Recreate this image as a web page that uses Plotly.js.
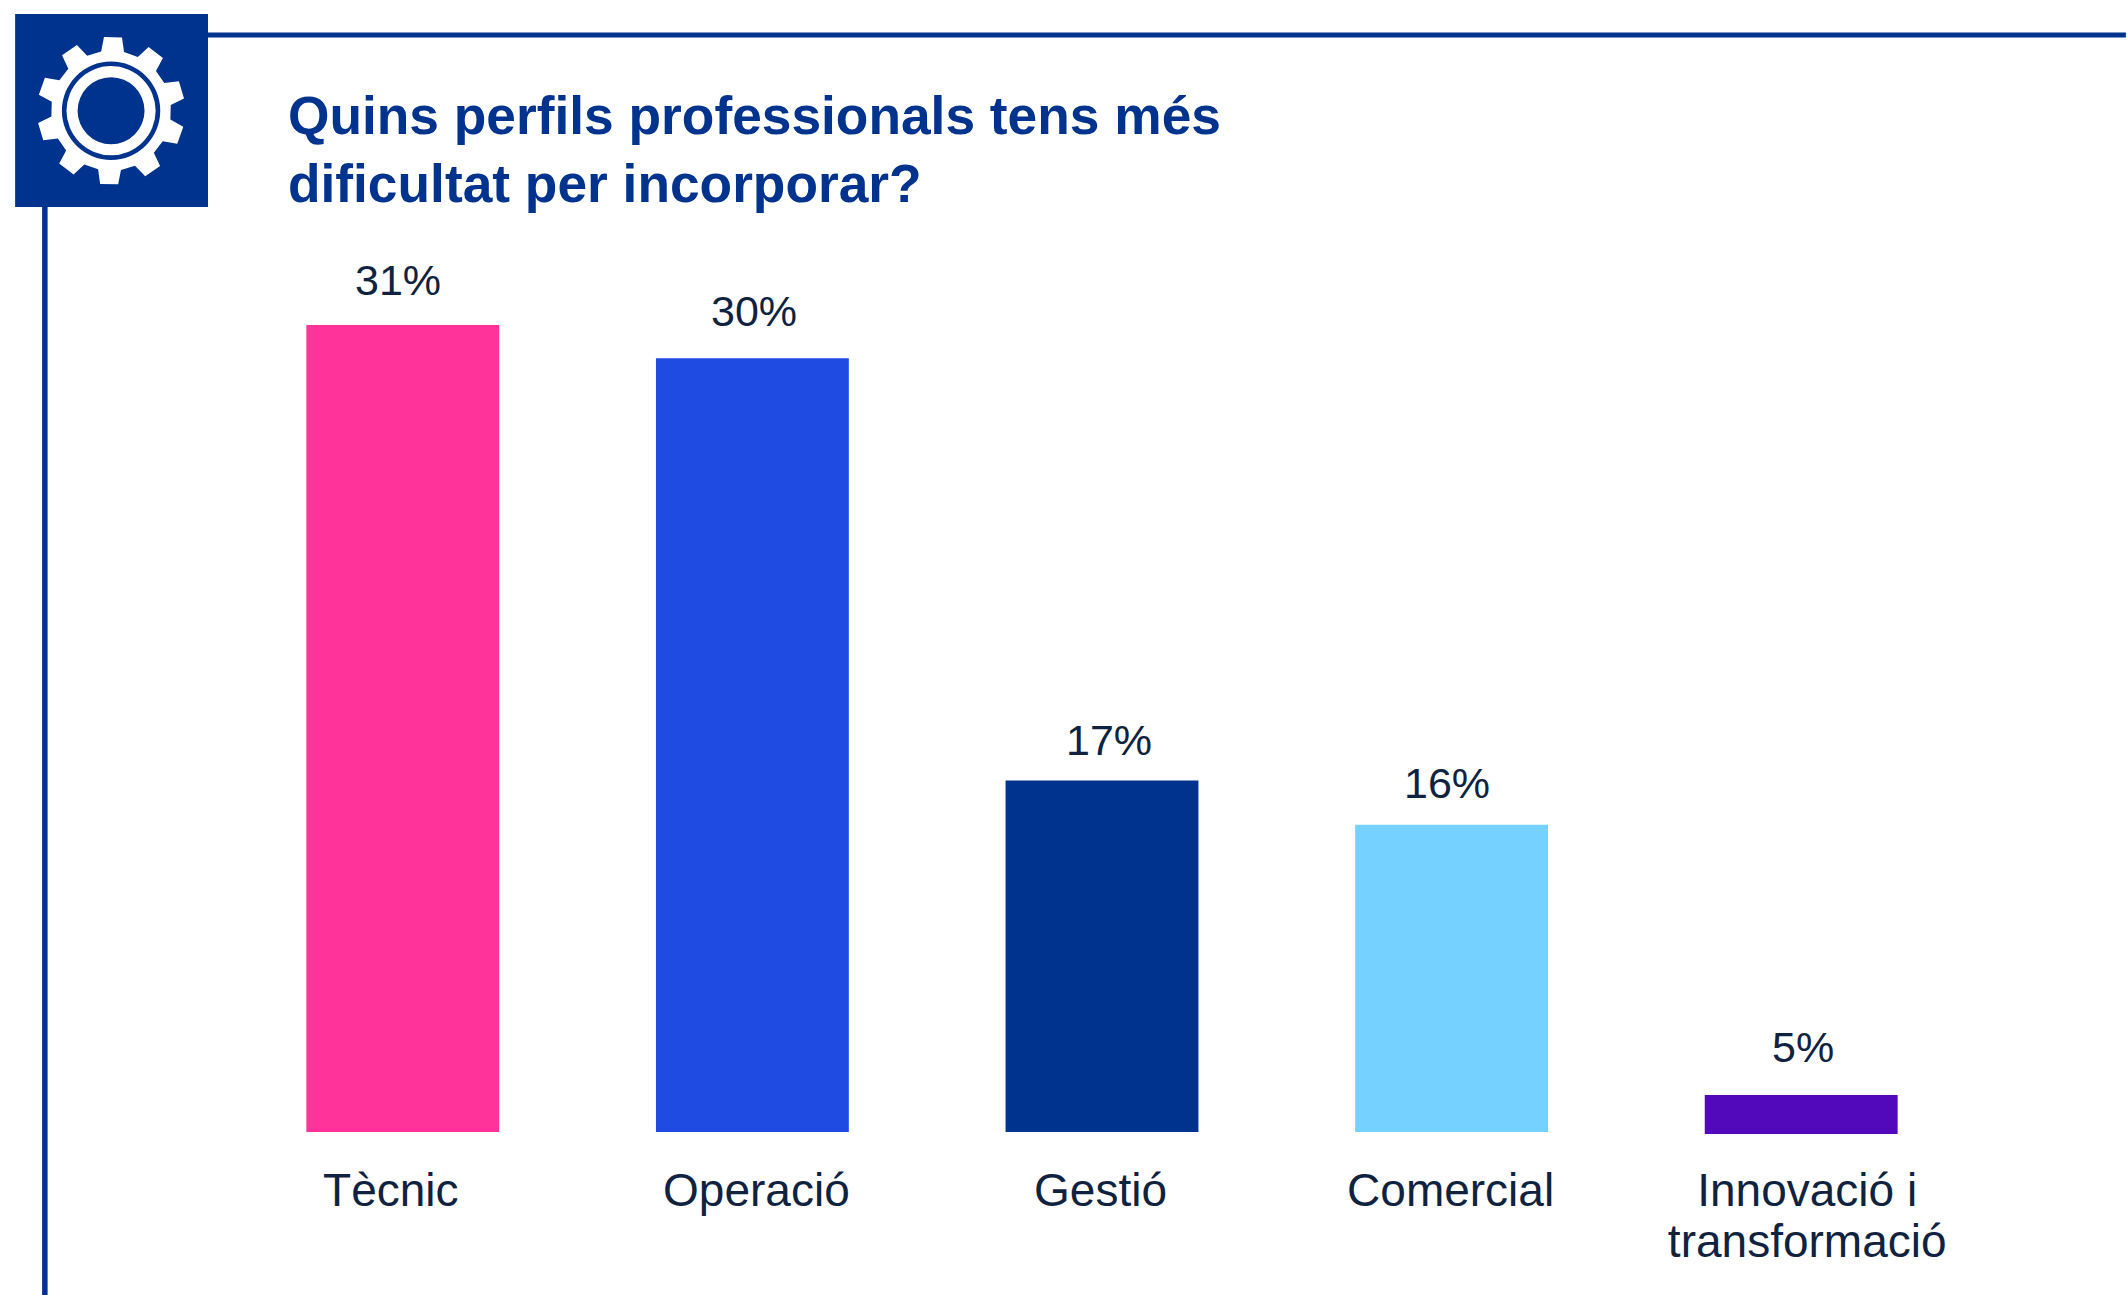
<!DOCTYPE html>
<html>
<head>
<meta charset="utf-8">
<script src="https://cdn.plot.ly/plotly-3.0.1.min.js"></script>
<style>html,body{margin:0;padding:0;background:#fff}#c{width:2127px;height:1295px}</style>
</head>
<body>
<div id="c"></div>
<script>
// Category names and printed labels, as in the reference
const categories = ['Tècnic', 'Operació', 'Gestió', 'Comercial', 'Innovació i<br>transformació'];
const printedLabels = ['31%', '30%', '17%', '16%', '5%'];
// Bar heights as drawn: the reference bars are not proportional to their printed labels,
// so heights are read from the picture on a scale where the first bar equals 31
const barHeights = [31, 29.73, 13.5, 11.8, 1.5];
const barBases = [0, 0, 0, 0, -0.08];
const barColors = ['#FF3399', '#1F4BE3', '#00338D', '#75D1FF', '#5209BC'];

const W = 2127, H = 1295;
const M = {l: 227.5, r: 150.5, t: 300, b: 155};
const pxPerCat = (W - M.l - M.r) / 5;
const pxPerUnit = 26.03;
const NAVY = '#00338D', INK = '#0F2340';

// small horizontal placement nudges in px (the source was hand-placed)
const labelNudge = [-5, 2, 7, -5, 2];
const tickNudge = [-12, 4, -1.5, -1, 6];
const labelGap = [45, 47, 41, 42, 48];

const idx = categories.map((_, i) => i);
// Plotly rounds the left margin when it places paper-referenced items
const px = x => (x - Math.round(M.l)) / (W - M.l - M.r);
const py = y => 1 - (y - M.t) / (H - M.t - M.b);

// Gear icon
function gearPath(cx, cy) {
  const teeth = 10, rot = 1.5, rOut = 74, rIn = 60, hOut = 7, hIn = 11;
  let d = '';
  const pt = (r, a) => {
    const t = (a - 90) * Math.PI / 180;
    return px(cx + r * Math.cos(t)) + ',' + py(cy + r * Math.sin(t));
  };
  for (let i = 0; i < teeth; i++) {
    const a = rot + i * 36;
    d += (i ? 'L' : 'M') + pt(rIn, a - hIn) + 'L' + pt(rOut, a - hOut) + 'L' + pt(rOut, a + hOut) + 'L' + pt(rIn, a + hIn);
  }
  return d + 'Z';
}
const circle = (cx, cy, r, color) => ({
  type: 'circle', xref: 'paper', yref: 'paper',
  x0: px(cx - r), x1: px(cx + r), y0: py(cy + r), y1: py(cy - r),
  fillcolor: color, line: {width: 0}, layer: 'above'
});
const rect = (x0, y0, x1, y1) => ({
  type: 'rect', xref: 'paper', yref: 'paper',
  x0: px(x0), x1: px(x1), y0: py(y1), y1: py(y0),
  fillcolor: NAVY, line: {width: 0}, layer: 'above'
});
const shapes = [
  rect(208, 32.5, W, 37.5),
  rect(42, 207, 47.5, H),
  rect(15, 14, 208, 207),
  {type: 'path', xref: 'paper', yref: 'paper', path: gearPath(111, 110.7), fillcolor: '#fff', line: {width: 0}, layer: 'above'},
  circle(111, 110.7, 49.2, NAVY),
  circle(111, 110.7, 44.6, '#fff'),
  circle(111, 110.7, 33.5, NAVY)
];

const annotations = idx.map(i => ({
  x: i, y: barHeights[i] + barBases[i], xref: 'x', yref: 'y',
  text: printedLabels[i], showarrow: false, xanchor: 'center', yanchor: 'middle',
  xshift: labelNudge[i], yshift: labelGap[i],
  font: {family: 'Liberation Sans, Arial, sans-serif', size: 43, color: INK}
}));

const trace = {
  type: 'bar',
  x: idx,
  y: barHeights,
  base: barBases,
  width: 193 / pxPerCat,
  marker: {color: barColors, line: {width: 0}},
  hoverinfo: 'skip'
};

const layout = {
  width: W, height: H,
  margin: {l: M.l, r: M.r, t: M.t, b: M.b, pad: 0},
  paper_bgcolor: '#fff', plot_bgcolor: '#fff',
  showlegend: false,
  title: {
    text: 'Quins perfils professionals tens més<br>dificultat per incorporar?',
    font: {family: 'Liberation Sans, Arial, sans-serif', size: 53.3, color: NAVY, weight: 700},
    xref: 'paper', x: px(288), xanchor: 'left',
    yref: 'container', y: 1 - 134 / H, yanchor: 'top'
  },
  xaxis: {
    type: 'linear', range: [-0.5, 4.5], fixedrange: true,
    tickmode: 'array', tickvals: idx.map(i => i + tickNudge[i] / pxPerCat), ticktext: categories,
    showgrid: false, zeroline: false, showline: false, ticks: '',
    ticklabelstandoff: 19,
    tickfont: {family: 'Liberation Sans, Arial, sans-serif', size: 46, color: INK}
  },
  yaxis: {
    range: [-(8 / pxPerUnit), (1132 - M.t) / pxPerUnit], fixedrange: true,
    visible: false, showgrid: false, zeroline: false
  },
  shapes, annotations
};

Plotly.newPlot('c', [trace], layout, {displayModeBar: false, responsive: false}).then(() => {
  // line spacing of the reference differs from Plotly's fixed 1.3em
  document.querySelectorAll('.xtick tspan.line').forEach(t => {
    if (t.getAttribute('dy') && parseFloat(t.getAttribute('dy')) > 0) t.setAttribute('dy', '1.11em');
  });
  document.querySelectorAll('.gtitle tspan.line').forEach(t => {
    if (t.getAttribute('dy') && parseFloat(t.getAttribute('dy')) > 0) t.setAttribute('dy', '1.27em');
  });
});
</script>
</body>
</html>
